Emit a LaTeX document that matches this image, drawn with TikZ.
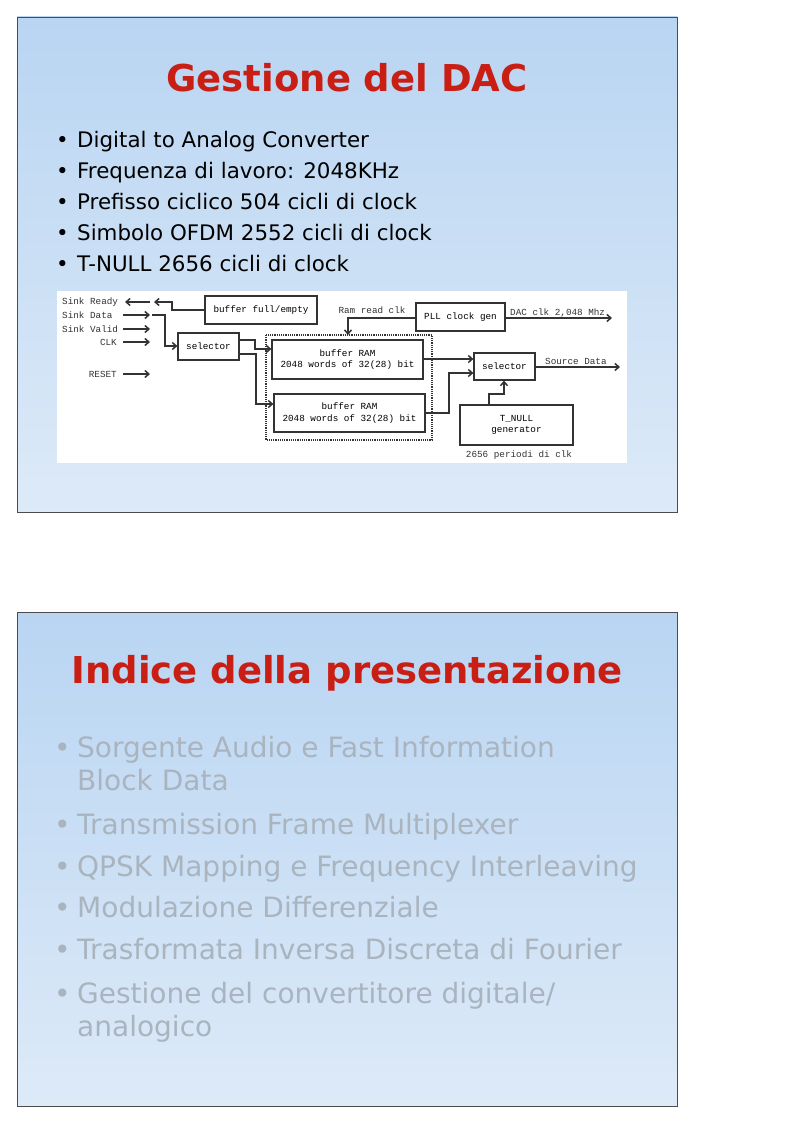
\documentclass[tikz,border=0pt]{standalone}
\usepackage{fontspec}
\setmainfont{DejaVu Sans}
\newfontfamily\monof{Liberation Mono}
\usetikzlibrary{arrows.meta}
\definecolor{bgtop}{HTML}{B9D5F2}
\definecolor{bgbot}{HTML}{DDEAF8}
\definecolor{titred}{HTML}{C81E14}
\definecolor{graytxt}{HTML}{AAB4BE}
\definecolor{diag}{HTML}{333333}
\newcommand{\mf}{\monof\fontsize{9.3}{11.5}\selectfont}
\tikzset{
 slide/.style={draw=black!70, line width=0.6pt, top color=bgtop, bottom color=bgbot},
 ttl/.style={text=titred, font=\fontsize{37}{42}\selectfont\bfseries, anchor=center},
 b1/.style={anchor=west, font=\fontsize{21.4}{24}\selectfont, text=black, inner sep=0pt, text height=0.72em, text depth=0.2em, yshift=-5pt},
 b2/.style={anchor=west, font=\fontsize{28}{32}\selectfont, text=graytxt, inner sep=0pt, text height=0.72em, text depth=0.2em, yshift=-6pt},
 blk/.style={draw=diag, line width=1.2pt, inner sep=0pt, font=\mf, align=center},
 lab/.style={font=\mf, text=diag, inner sep=0pt},
 wire/.style={draw=diag, line width=1.5pt},
 arr/.style={wire, -{Straight Barb[length=4pt,width=7pt]}}
}
\begin{document}
\begin{tikzpicture}[x=1pt,y=-1pt]
\useasboundingbox (0,0) rectangle (793,1123);
\fill[white] (0,0) rectangle (793,1123);
% slide 1
\path[slide] (17,17) rectangle (677,512);
\node[ttl] (t1) at (347,78) {Gestione del DAC};
\foreach \y/\t [count=\i] in {140/Digital to Analog Converter,171/Frequenza di lavoro: 2048KHz,202/Prefisso ciclico 504 cicli di clock,233/Simbolo OFDM 2552 cicli di clock,264/T-NULL 2656 cicli di clock}{
  \node[b1] (bb\i) at (56,\y) {•};
  \node[b1] (bt\i) at (77,\y) {\t};
}
% diagram
\fill[white] (57,291) rectangle (627,463);
\node[lab,anchor=west] (sr) at (62,302) {Sink Ready};
\node[lab,anchor=west] (sd) at (62,315) {Sink Data};
\node[lab,anchor=west] (sv) at (62,329) {Sink Valid};
\node[lab,anchor=east] (ck) at (117,342) {CLK};
\node[lab,anchor=east] (rs) at (117,374) {RESET};
\node[blk,minimum width=112pt,minimum height=28pt] (bfe) at (261,310) {buffer full/empty};
\node[blk,minimum width=61pt,minimum height=27pt] (sel1) at (208.5,346.5) {selector};
\draw[densely dotted, line width=1.2pt, draw=diag] (266,335) rectangle (432,440);
\node[blk,minimum width=151pt,minimum height=39pt] (ram1) at (347.5,359.5) {buffer RAM\\2048 words of 32(28) bit};
\node[blk,minimum width=151pt,minimum height=38pt] (ram2) at (349.5,413) {buffer RAM\\2048 words of 32(28) bit};
\node[blk,minimum width=89pt,minimum height=28pt] (pll) at (460.5,317) {PLL clock gen};
\node[lab] (rrc) at (372,310) {Ram read clk};
\node[lab,anchor=west] (dac) at (510,313) {DAC clk 2,048 Mhz};
\node[blk,minimum width=61pt,minimum height=27pt] (sel2) at (504.5,366.5) {selector};
\node[lab,anchor=west] (src) at (545,361) {Source Data};
\node[blk,minimum width=113pt,minimum height=40pt] (tn) at (516.5,425) {T\_NULL\\generator};
\node[lab] (per) at (519,455) {2656 periodi di clk};
\coordinate (srE) at (154,302);
\draw[arr] (150,302) -- (125,302);
\draw[arr] (bfe.west |- 0,310) -- (172,310) -- (172,302) -- (srE);
\foreach \y in {315,329,342,374} \draw[arr] (123,\y) -- (150,\y);
\draw[arr] (152,315) -- (165,315) -- (165,346) -- (sel1.west |- 0,346);
\draw[arr] (sel1.east |- 0,340) -- (255,340) -- (255,349) -- (ram1.west |- 0,349);
\draw[arr] (sel1.east |- 0,354) -- (256,354) -- (256,404) -- (ram2.west |- 0,404);
\draw[arr] (pll.west |- 0,318) -- (348,318) -- (348,335);
\draw[arr] (pll.east |- 0,318) -- (612,318);
\draw[arr] (ram1.east |- 0,359) -- (sel2.west |- 0,359);
\draw[arr] (ram2.east |- 0,413) -- (449,413) -- (449,373) -- (sel2.west |- 0,373);
\draw[arr] (sel2.east |- 0,367) -- (620,367);
\draw[arr] (489,405) -- (489,394) -- (504,394) -- (sel2.south -| 504,0);
% slide 2
\path[slide] (17,612) rectangle (677,1106);
\node[ttl] (t2) at (347,673) {Indice della presentazione};
\foreach \y/\t [count=\i] in {749/Sorgente Audio e Fast Information,826/Transmission Frame Multiplexer,868/QPSK Mapping e Frequency Interleaving,909/Modulazione Differenziale,951/Trasformata Inversa Discreta di Fourier,995/{Gestione del convertitore digitale/}}{
  \node[b2] (cb\i) at (54,\y) {•};
  \node[b2] (ct\i) at (77,\y) {\t};
}
\node[b2] (cx1) at (77,782) {Block Data};
\node[b2] (cx2) at (77,1028) {analogico};
\end{tikzpicture}
\end{document}
